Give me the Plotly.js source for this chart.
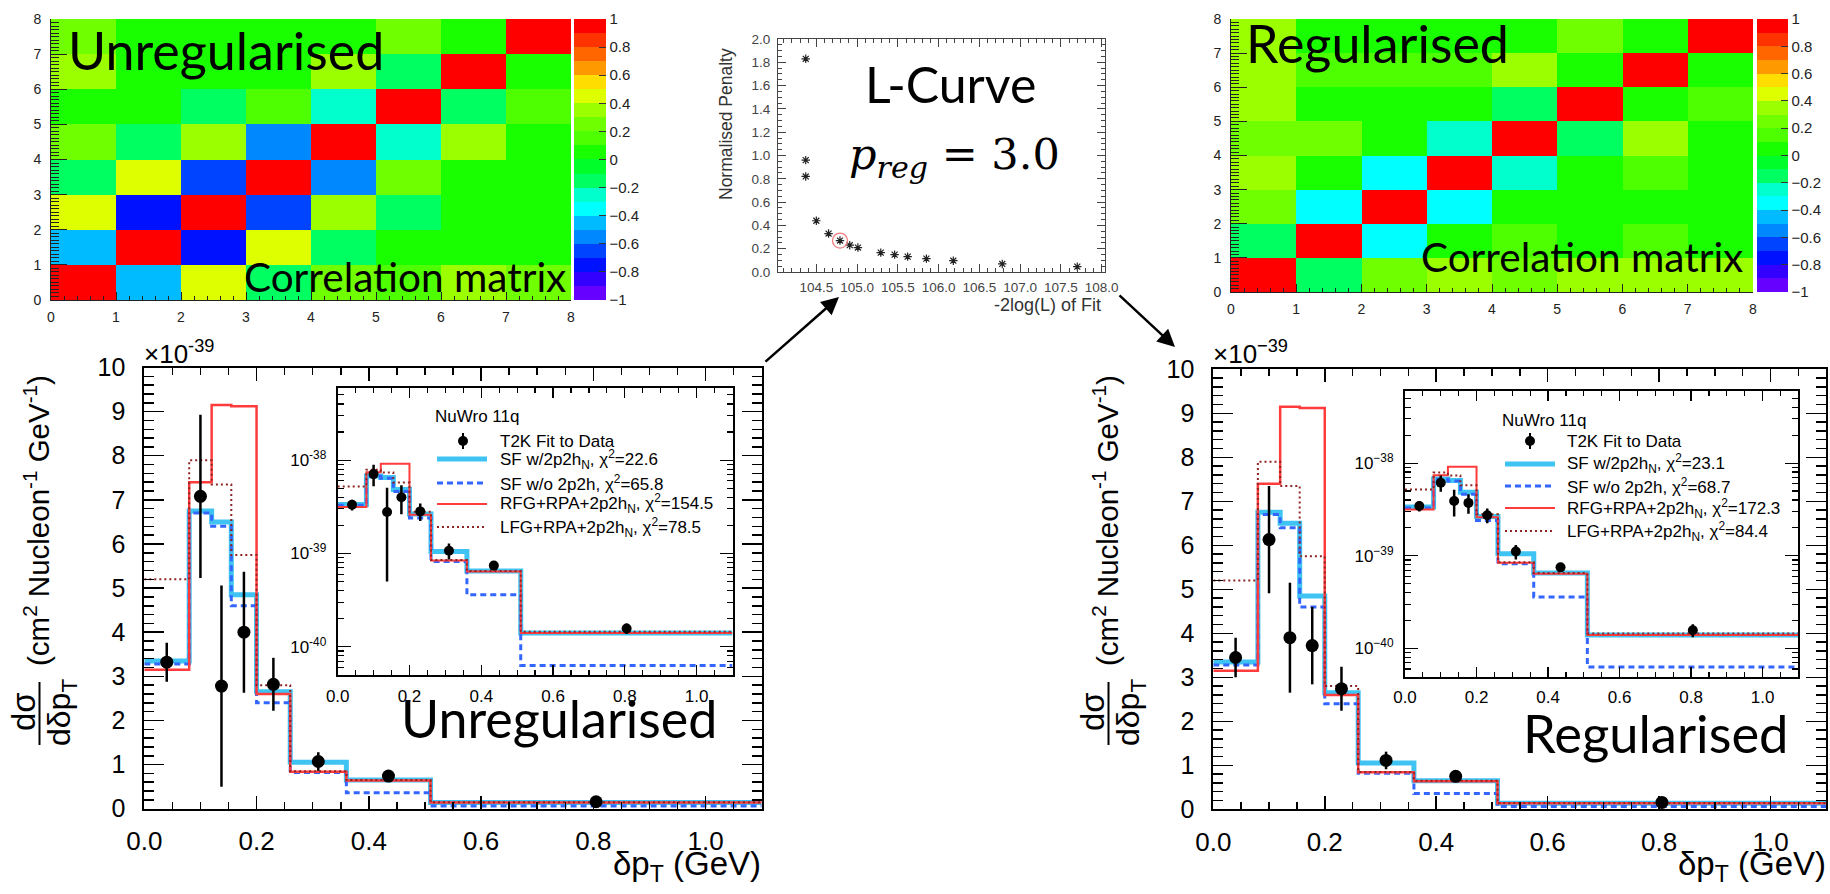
<!DOCTYPE html>
<html><head><meta charset="utf-8">
<script src="https://cdn.plot.ly/plotly-3.0.1.min.js"></script>
<style>html,body{margin:0;padding:0;background:#fff;}#plot{width:1830px;height:894px;}</style>
</head><body><div id="plot"></div>
<script>
// ---------------- DATA ----------------
const matrixBins = [0.5, 1.5, 2.5, 3.5, 4.5, 5.5, 6.5, 7.5];
// rows = y bin (bottom to top), columns = x bin
const corrUnreg = [
  [1, -0.45, 0.45, -0.15, 0.25, 0.15, 0.35, 0.25],
  [-0.45, 1, -0.75, 0.45, -0.15, 0.05, 0.05, 0.05],
  [0.45, -0.75, 1, -0.65, 0.35, -0.15, 0.05, 0.05],
  [-0.15, 0.45, -0.65, 1, -0.55, 0.25, 0.05, 0.05],
  [0.25, -0.15, 0.35, -0.55, 1, -0.25, 0.35, 0.05],
  [0.05, 0.05, -0.15, 0.15, -0.25, 1, -0.15, 0.15],
  [0.35, 0.05, 0.05, 0.05, 0.35, -0.15, 1, 0.05],
  [0.25, 0.05, 0.05, 0.05, 0.05, 0.25, 0.05, 1]
];
const corrReg = [
  [1, -0.15, 0.25, 0.35, 0.25, 0.35, 0.35, 0.35],
  [-0.15, 1, -0.35, 0.05, 0.15, 0.05, 0.15, 0.05],
  [0.25, -0.35, 1, -0.35, 0.05, 0.05, 0.05, 0.05],
  [0.35, 0.05, -0.35, 1, -0.25, 0.05, 0.15, 0.05],
  [0.25, 0.25, 0.05, -0.25, 1, -0.15, 0.35, 0.05],
  [0.35, 0.05, 0.05, 0.05, -0.15, 1, 0.05, 0.15],
  [0.35, 0.15, 0.15, 0.15, 0.35, 0.05, 1, 0.05],
  [0.35, 0.05, 0.05, 0.05, 0.05, 0.25, 0.05, 1]
];
const corrTickVals = [-1, -0.8, -0.6, -0.4, -0.2, 0, 0.2, 0.4, 0.6, 0.8, 1];
const corrTickText = ['\u22121', '\u22120.8', '\u22120.6', '\u22120.4', '\u22120.2', '0', '0.2', '0.4', '0.6', '0.8', '1'];

// L-curve
const lcurveX = [104.37, 104.37, 104.37, 104.50, 104.65, 104.79, 104.91, 105.01, 105.29, 105.46, 105.62, 105.85, 106.18, 106.78, 107.70];
const lcurveY = [1.83, 0.96, 0.82, 0.44, 0.33, 0.27, 0.23, 0.21, 0.166, 0.149, 0.132, 0.115, 0.097, 0.069, 0.046];
const chosenIndex = 5;

// dpT histograms (units of 1e-39 cm^2 / nucleon / GeV)
const binEdges = [0, 0.08, 0.12, 0.155, 0.2, 0.26, 0.36, 0.51, 1.1];
const sfWith2p2h    = [3.35, 6.75, 6.50, 4.85, 2.65, 1.05, 0.65, 0.140];
const sfWithout2p2h = [3.28, 6.70, 6.40, 4.60, 2.40, 0.82, 0.36, 0.063];
const rfgRpa2p2h    = [3.15, 7.40, 9.15, 9.12, 2.60, 0.84, 0.64, 0.140];
const lfgRpa2p2h    = [5.20, 7.90, 7.35, 5.75, 2.80, 0.85, 0.65, 0.145];
const dataX   = [0.04, 0.10, 0.1375, 0.1775, 0.23, 0.31, 0.435, 0.805];
const unregY  = [3.32, 7.08, 2.78, 4.00, 2.82, 1.07, 0.74, 0.157];
const unregErr= [0.44, 1.85, 2.28, 1.37, 0.60, 0.21, 0.05, 0.02];
const regY    = [3.45, 6.13, 3.90, 3.72, 2.74, 1.11, 0.75, 0.157];
const regErr  = [0.45, 1.22, 1.25, 0.88, 0.50, 0.20, 0.05, 0.025];
const chi2Unreg = [22.6, 65.8, 154.5, 78.5];
const chi2Reg   = [23.1, 68.7, 172.3, 84.4];
const modelLabels = ['SF w/2p2h<sub>N</sub>', 'SF w/o 2p2h', 'RFG+RPA+2p2h<sub>N</sub>', 'LFG+RPA+2p2h<sub>N</sub>'];
const UNIT = 1e-39;

// ---------------- HELPERS ----------------
const W = 1830, H = 894;
const px = x => x / W;
const py = y => 1 - y / H;
const xd = (a, b) => [a / W, b / W];
const yd = (top, bottom) => [1 - bottom / H, 1 - top / H];
const FONT = 'Liberation Sans, Arial, sans-serif';
const GEO = 'Lato, sans-serif';

const bandColors = ['#6600FF','#3300FF','#0011FF','#0044FF','#0088FF','#00BBFF','#00FFFF','#00FFCC','#00FF60','#00FF2A',
                    '#1AFF00','#4DFF00','#70FF00','#9CFF00','#DDFF00','#FFDD00','#FF9900','#FF6600','#FF3300','#FF0000'];
const colorscale = [];
bandColors.forEach((c, i) => { colorscale.push([i / 20, c]); colorscale.push([(i + 1) / 20, c]); });

const modelStyles = [
  {color: '#3EC3F2', width: 5, dash: 'solid', insetWidth: 5},
  {color: '#3366FF', width: 3, dash: '6px,4px', insetWidth: 3},
  {color: '#FF3B3B', width: 2.5, dash: 'solid', insetWidth: 2},
  {color: '#8E2424', width: 2, dash: '2px,3px', insetWidth: 2}
];
const models = [sfWith2p2h, sfWithout2p2h, rfgRpa2p2h, lfgRpa2p2h];

const traces = [];
const shapes = [];
const annotations = [];

function txt(text, x, y, size, o) {
  o = o || {};
  return {text, x: px(x), y: py(y), xref: 'paper', yref: 'paper', showarrow: false,
    font: {size, family: o.family || FONT, color: o.color || '#000'},
    xanchor: o.xanchor || 'left', yanchor: o.yanchor || 'middle', textangle: o.angle || 0, borderpad: 0};
}
// place a Lato text by its baseline
function geo(text, x, baseline, size, xanchor) {
  return txt(text, x, baseline - 0.387 * size, size, {family: GEO, xanchor: xanchor || 'left'});
}

// ---------------- HEATMAPS ----------------
function heatmap(z, xa, ya, cbX, cbTop, cbLen, cbThick) {
  traces.push({type: 'heatmap', x: matrixBins, y: matrixBins, z, zmin: -1, zmax: 1, colorscale,
    xaxis: xa, yaxis: ya, hoverinfo: 'skip',
    colorbar: {x: px(cbX), xanchor: 'left', y: py(cbTop), yanchor: 'top', len: cbLen, lenmode: 'pixels',
      thickness: cbThick, thicknessmode: 'pixels', xpad: 0, ypad: 0, outlinewidth: 0,
      tickmode: 'array', tickvals: corrTickVals, ticktext: corrTickText, ticks: 'inside', ticklen: 7,
      tickcolor: '#333', tickfont: {size: 15, color: '#222', family: FONT}, ticklabelstandoff: 6}});
}
heatmap(corrUnreg, 'x', 'y', 574, 19, 281, 32);
heatmap(corrReg, 'x2', 'y2', 1757, 19, 273, 31);

function heatAxisX(dom, anchor) {
  return {domain: dom, anchor, range: [0, 8], tick0: 0, dtick: 1, ticks: 'inside', ticklen: 8, tickwidth: 1, tickcolor: '#222',
    minor: {ticks: 'inside', ticklen: 4, dtick: 0.2, tick0: 0, tickcolor: '#222', tickwidth: 1},
    tickfont: {size: 14, color: '#222'}, showline: true, linecolor: '#222', linewidth: 1,
    showgrid: false, zeroline: false, ticklabelstandoff: 4};
}
function heatAxisY(dom, anchor) {
  return {domain: dom, anchor, range: [0, 8], tick0: 0, dtick: 1, ticks: 'inside', ticklen: 16, tickwidth: 1, tickcolor: '#222',
    minor: {ticks: 'inside', ticklen: 8, dtick: 0.1, tick0: 0, tickcolor: '#222', tickwidth: 1},
    tickfont: {size: 14, color: '#222'}, showline: true, linecolor: '#222', linewidth: 1,
    showgrid: false, zeroline: false, ticklabelstandoff: 6};
}

annotations.push(geo('Unregularised', 67, 70, 52));
annotations.push(geo('Correlation matrix', 243, 292, 40.5));
annotations.push(geo('Regularised', 1245, 63, 52));
annotations.push(geo('Correlation matrix', 1420, 272, 40.5));

// ---------------- L-CURVE ----------------
traces.push({type: 'scatter', mode: 'markers', x: lcurveX, y: lcurveY, xaxis: 'x3', yaxis: 'y3', hoverinfo: 'skip',
  marker: {symbol: 'asterisk-open', size: 7, color: '#222', line: {width: 1.2, color: '#222'}}});
traces.push({type: 'scatter', mode: 'markers', x: [lcurveX[chosenIndex]], y: [lcurveY[chosenIndex]], xaxis: 'x3', yaxis: 'y3',
  hoverinfo: 'skip', marker: {symbol: 'circle-open', size: 15, color: '#F07C7C', line: {width: 1.3, color: '#F07C7C'}}});
annotations.push(geo('L-Curve', 950, 103, 50, 'center'));
annotations.push(txt('<i>p</i><sub><i>reg</i></sub> = 3.0', 848, 157, 43, {family: 'DejaVu Serif, serif'}));
annotations.push(txt('Normalised Penalty', 726, 124, 17.5, {angle: -90, xanchor: 'center', color: '#333'}));
annotations.push(txt('-2log(L) of Fit', 1102, 305, 18, {xanchor: 'right', color: '#333'}));

// arrows
annotations.push({x: px(839), y: py(297), xref: 'paper', yref: 'paper', ax: -75, ay: 66, axref: 'pixel', ayref: 'pixel',
  text: '', showarrow: true, arrowhead: 2, arrowsize: 1.4, arrowwidth: 2.5, arrowcolor: '#000', standoff: 0});
annotations.push({x: px(1175), y: py(347), xref: 'paper', yref: 'paper', ax: -57, ay: -53, axref: 'pixel', ayref: 'pixel',
  text: '', showarrow: true, arrowhead: 2, arrowsize: 1.4, arrowwidth: 2.5, arrowcolor: '#000', standoff: 0});

// ---------------- dpT PLOTS ----------------
function stepTrace(vals, st, xa, ya, scale, w) {
  const y = vals.map(v => v * scale);
  y.push(y[y.length - 1]);
  return {type: 'scatter', mode: 'lines', x: binEdges, y, xaxis: xa, yaxis: ya, hoverinfo: 'skip',
    line: {shape: 'hv', color: st.color, width: w, dash: st.dash}};
}
function dataTrace(yv, err, xa, ya, scale, size) {
  return {type: 'scatter', mode: 'markers', x: dataX, y: yv.map(v => v * scale), xaxis: xa, yaxis: ya, hoverinfo: 'skip',
    marker: {color: '#000', size},
    error_y: {type: 'data', array: err.map(v => v * scale), visible: true, color: '#000', thickness: 2.5, width: 0}};
}
function addPanel(mx, my, ix, iy, yv, err) {
  models.forEach((m, i) => traces.push(stepTrace(m, modelStyles[i], mx, my, 1, modelStyles[i].width)));
  traces.push(dataTrace(yv, err, mx, my, 1, 13));
  models.forEach((m, i) => traces.push(stepTrace(m, modelStyles[i], ix, iy, UNIT, modelStyles[i].insetWidth)));
  traces.push(dataTrace(yv, err, ix, iy, UNIT, 10));
}
addPanel('x4', 'y4', 'x5', 'y5', unregY, unregErr);
addPanel('x6', 'y6', 'x7', 'y7', regY, regErr);

function mainX(dom, anchor) {
  return {domain: dom, anchor, range: [0, 1.1], showline: true, linewidth: 2, linecolor: '#000', mirror: 'allticks',
    ticks: 'inside', ticklen: 13, tickwidth: 1.5, tickcolor: '#000', tick0: 0, dtick: 0.2, tickformat: '.1f',
    tickfont: {size: 26, color: '#000'}, minor: {ticks: 'inside', ticklen: 7, tickwidth: 1.5, tickcolor: '#000', dtick: 0.05, tick0: 0},
    showgrid: false, zeroline: false, ticklabelstandoff: 8};
}
function mainY(dom, anchor) {
  return {domain: dom, anchor, range: [0, 10], showline: true, linewidth: 2, linecolor: '#000', mirror: 'allticks',
    ticks: 'inside', ticklen: 20, tickwidth: 1.5, tickcolor: '#000', tick0: 0, dtick: 1,
    tickfont: {size: 25, color: '#000'}, minor: {ticks: 'inside', ticklen: 10, tickwidth: 1.5, tickcolor: '#000', dtick: 0.2, tick0: 0},
    showgrid: false, zeroline: false, ticklabelstandoff: 12};
}
function insetX(dom, anchor) {
  return {domain: dom, anchor, range: [0, 1.1], showline: true, linewidth: 2, linecolor: '#000', mirror: 'allticks',
    ticks: 'inside', ticklen: 10, tickwidth: 1.2, tickcolor: '#000', tick0: 0, dtick: 0.2, tickformat: '.1f',
    tickfont: {size: 17, color: '#000'}, minor: {ticks: 'inside', ticklen: 5, tickwidth: 1.2, tickcolor: '#000', dtick: 0.05, tick0: 0},
    showgrid: false, zeroline: false, ticklabelstandoff: 4};
}
const decadeTicks = [1e-40, 1e-39, 1e-38];
const minorLogTicks = [];
for (let e = -41; e <= -38; e++) for (let m = 2; m <= 9; m++) minorLogTicks.push(m * Math.pow(10, e));
function insetY(dom, anchor, minus) {
  return {domain: dom, anchor, type: 'log', range: [-40.305, -37.222], showline: true, linewidth: 2, linecolor: '#000', mirror: 'allticks',
    ticks: 'inside', ticklen: 13, tickwidth: 1.2, tickcolor: '#000', tickmode: 'array', tickvals: decadeTicks,
    ticktext: ['10<sup>' + minus + '40</sup>', '10<sup>' + minus + '39</sup>', '10<sup>' + minus + '38</sup>'],
    tickfont: {size: 17, color: '#000'}, minor: {ticks: 'inside', ticklen: 6, tickwidth: 1.2, tickcolor: '#000', tickmode: 'array', tickvals: minorLogTicks},
    showgrid: false, zeroline: false, ticklabelstandoff: 6};
}

// axis titles / labels for dpT panels
function panelText(dx, minus) {
  annotations.push(txt('\u00d710<sup>' + minus + '39</sup>', 143 + dx, 353, 26));
  annotations.push(txt('(cm<sup>2</sup> Nucleon<sup>-1</sup> GeV<sup>-1</sup>)', 36 + dx, 521, 29.5, {angle: -90, xanchor: 'center'}));
  annotations.push(txt('d\u03c3', 23 + dx, 712, 33, {angle: -90, xanchor: 'center'}));
  annotations.push(txt('d\u03b4p<sub>T</sub>', 61 + dx, 713, 32, {angle: -90, xanchor: 'center'}));
  shapes.push({type: 'line', xref: 'paper', yref: 'paper', x0: px(39.5 + dx), x1: px(39.5 + dx), y0: py(682), y1: py(745), line: {color: '#000', width: 2}});
}
panelText(0, '-');
panelText(1069, '\u2212');
annotations.push(txt('\u03b4p<sub>T</sub> (GeV)', 762, 866, 33, {xanchor: 'right'}));
annotations.push(txt('\u03b4p<sub>T</sub> (GeV)', 1827, 866, 33, {xanchor: 'right'}));
annotations.push(geo('Unregularised', 400, 738, 52));
annotations.push(geo('Regularised', 1522, 753, 52.5));

// legends
function addLegend(cfg, chi2) {
  annotations.push(txt('NuWro 11q', cfg.titleX, cfg.titleY, 17));
  shapes.push({type: 'line', xref: 'paper', yref: 'paper', x0: px(cfg.markX), x1: px(cfg.markX), y0: py(cfg.rows[0] - 8), y1: py(cfg.rows[0] + 8), line: {color: '#000', width: 2}});
  shapes.push({type: 'circle', xref: 'paper', yref: 'paper', x0: px(cfg.markX - 5), x1: px(cfg.markX + 5), y0: py(cfg.rows[0] + 5), y1: py(cfg.rows[0] - 5), fillcolor: '#000', line: {color: '#000', width: 0}});
  annotations.push(txt('T2K Fit to Data', cfg.textX, cfg.rows[0], 17));
  modelStyles.forEach((st, i) => {
    shapes.push({type: 'line', xref: 'paper', yref: 'paper', x0: px(cfg.lineX0), x1: px(cfg.lineX1), y0: py(cfg.rows[i + 1]), y1: py(cfg.rows[i + 1]),
      line: {color: st.color, width: st.insetWidth, dash: st.dash}});
    annotations.push(txt(modelLabels[i] + ', \u03c7<sup>2</sup>=' + chi2[i].toFixed(1), cfg.textX, cfg.rows[i + 1], 17));
  });
}
addLegend({titleX: 434, titleY: 417, markX: 463, textX: 499, lineX0: 437, lineX1: 487, rows: [441, 459, 483, 504, 527]}, chi2Unreg);
addLegend({titleX: 1501, titleY: 420, markX: 1530, textX: 1566, lineX0: 1505, lineX1: 1555, rows: [441, 464, 486, 508, 531]}, chi2Reg);

const layout = {
  width: W, height: H, margin: {l: 0, r: 0, t: 0, b: 0}, showlegend: false,
  paper_bgcolor: '#fff', plot_bgcolor: '#fff', font: {family: FONT, color: '#000'},
  xaxis: heatAxisX(xd(51, 571), 'y'), yaxis: heatAxisY(yd(19, 300), 'x'),
  xaxis2: heatAxisX(xd(1231, 1753), 'y2'), yaxis2: heatAxisY(yd(19, 292), 'x2'),
  xaxis3: {domain: xd(778, 1105), anchor: 'y3', range: [104.03, 108.04], tick0: 104.5, dtick: 0.5, tickformat: '.1f',
    ticks: 'inside', ticklen: 8, tickwidth: 1, tickcolor: '#444', mirror: 'allticks', showline: true, linecolor: '#444', linewidth: 1,
    minor: {ticks: 'inside', ticklen: 4, dtick: 0.1, tick0: 104, tickcolor: '#444'}, tickfont: {size: 13.5, color: '#444'},
    showgrid: false, zeroline: false, ticklabelstandoff: 3},
  yaxis3: {domain: yd(39, 272), anchor: 'x3', range: [0, 2.0], tick0: 0, dtick: 0.2, tickformat: '.1f',
    ticks: 'inside', ticklen: 8, tickwidth: 1, tickcolor: '#444', mirror: 'allticks', showline: true, linecolor: '#444', linewidth: 1,
    minor: {ticks: 'inside', ticklen: 4, dtick: 0.05, tick0: 0, tickcolor: '#444'}, tickfont: {size: 13.5, color: '#444'},
    showgrid: false, zeroline: false, ticklabelstandoff: 4},
  xaxis4: mainX(xd(144.3, 761.7), 'y4'), yaxis4: mainY(yd(367.5, 808.7), 'x4'),
  xaxis5: insetX(xd(337.7, 732.5), 'y5'), yaxis5: insetY(yd(387.5, 675.2), 'x5', '-'),
  xaxis6: mainX(xd(1213.3, 1826.3), 'y6'), yaxis6: mainY(yd(369.3, 809.3), 'x6'),
  xaxis7: insetX(xd(1405, 1798.3), 'y7'), yaxis7: insetY(yd(391, 676.7), 'x7', '\u2212'),
  shapes, annotations
};
Plotly.newPlot('plot', traces, layout, {staticPlot: true, displayModeBar: false});
</script>
</body></html>
